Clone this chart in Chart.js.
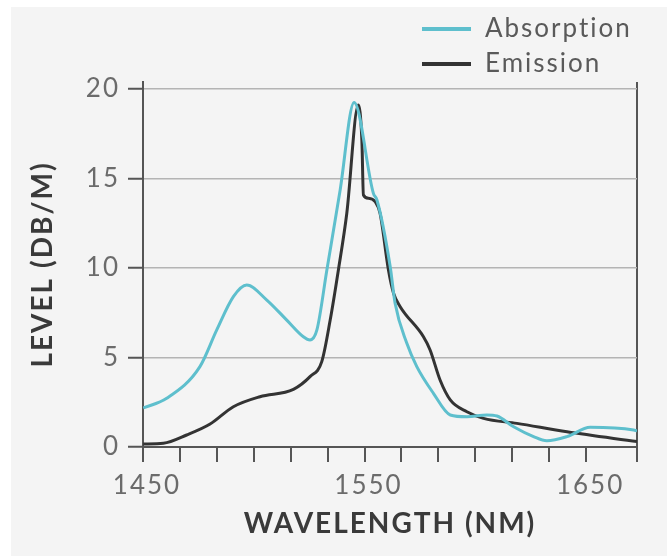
<!DOCTYPE html>
<html><head><meta charset="utf-8">
<script src="https://cdn.jsdelivr.net/npm/chart.js@4/dist/chart.umd.min.js"></script>
<style>html,body{margin:0;padding:0;background:#fff;}#wrap{width:667px;height:556px;position:relative}</style>
</head><body><div id="wrap"><canvas id="c" width="667" height="556"></canvas></div>
<script>
const seriesNames = ['Absorption', 'Emission'];
const seriesColors = ['#5ebfcd', '#333333'];
const absorptionNm = [1450.1,1460.7,1475.7,1483.3,1490.8,1496.8,1505.9,1514.9,1522.4,1525.4,1528.5,1533.0,1539.0,1545.3,1554.0,1555.6,1561.6,1563.8,1569.1,1573.6,1581.1,1588.7,1596.2,1605.2,1609.8,1617.3,1626.3,1632.3,1641.4,1651.9,1671.5,1673.0];
const absorptionLevel = [2.18,2.72,4.49,6.54,8.40,9.05,8.21,7.09,6.16,5.98,6.54,9.89,14.36,19.25,14.17,13.8,10.07,8.03,5.79,4.49,3.0,1.79,1.69,1.79,1.73,1.13,0.58,0.35,0.58,1.1,0.95,0.9];
const emissionNm = [1450.1,1459.2,1469.7,1480.3,1490.8,1502.8,1517.9,1525.4,1530.7,1534.5,1538.2,1542.0,1547.2,1548.8,1549.5,1551.8,1554.8,1557.0,1560.8,1563.1,1566.1,1576.6,1579.6,1584.1,1588.7,1596.2,1603.7,1618.8,1641.4,1673.0];
const emissionLevel = [0.17,0.21,0.67,1.28,2.25,2.81,3.22,3.93,4.77,7.09,9.89,13.06,19.1,17.15,14.08,13.9,13.7,13.06,9.89,8.59,7.84,6.16,5.42,3.74,2.63,1.97,1.6,1.32,0.85,0.3];
const xTickLabels = [1450, 1550, 1650];
const yTickValues = [0, 5, 10, 15, 20];
const xMin = 1450, xMax = 1673, yMin = 0, yMax = 20.39;

const toPoints = (xs, ys) => xs.map((x, i) => ({x: x, y: ys[i]}));

const spacingPlugin = {
  id: 'spacing',
  beforeInit(chart) { chart.ctx.letterSpacing = '2px'; },
  beforeUpdate(chart) { chart.ctx.letterSpacing = '2px'; },
  beforeLayout(chart) { chart.ctx.letterSpacing = '2px'; },
  beforeDraw(chart) { chart.ctx.letterSpacing = '2px'; }
};

const bgPlugin = {
  id: 'bg',
  beforeDraw(chart) {
    const ctx = chart.ctx;
    ctx.save();
    ctx.fillStyle = '#ffffff';
    ctx.fillRect(0, 0, chart.width, chart.height);
    ctx.fillStyle = '#f4f4f4';
    ctx.fillRect(11, 7, chart.width - 11, chart.height - 7);
    ctx.restore();
  }
};

const legendPlugin = {
  id: 'customLegend',
  afterDraw(chart) {
    const ctx = chart.ctx;
    ctx.save();
    ctx.font = '26px Lato';
    ctx.letterSpacing = '2px';
    ctx.textBaseline = 'middle';
    chart.data.datasets.forEach((ds, i) => {
      const y = 29 + i * 35;
      ctx.strokeStyle = ds.borderColor;
      ctx.lineWidth = 4;
      ctx.beginPath();
      ctx.moveTo(422, y);
      ctx.lineTo(471, y);
      ctx.stroke();
      ctx.fillStyle = '#5a5a5a';
      ctx.fillText(ds.label, 485, y);
    });
    ctx.restore();
  }
};

new Chart(document.getElementById('c'), {
  type: 'line',
  data: {
    datasets: [
      {label: seriesNames[0], data: toPoints(absorptionNm, absorptionLevel), borderColor: seriesColors[0], borderWidth: 3, pointRadius: 0, fill: false, cubicInterpolationMode: 'monotone'},
      {label: seriesNames[1], data: toPoints(emissionNm, emissionLevel), borderColor: seriesColors[1], borderWidth: 3, pointRadius: 0, fill: false, cubicInterpolationMode: 'monotone'}
    ]
  },
  options: {
    responsive: false,
    animation: false,
    layout: {padding: {top: 82, left: 0, right: 30, bottom: 0}},
    plugins: {legend: {display: false}, tooltip: {enabled: false}},
    scales: {
      x: {
        type: 'linear', min: xMin, max: xMax,
        afterBuildTicks: s => {
          const t = [];
          for (let k = 0; k <= 12; k++) t.push({value: xMin + k * 100 / 6});
          t.push({value: xMax});
          s.ticks = t;
        },
        ticks: {
          autoSkip: false, maxRotation: 0, minRotation: 0, padding: 8, labelOffset: 4,
          color: '#6b6b6b', font: {family: 'Lato', size: 26},
          callback: v => { const l = xTickLabels.find(l => Math.abs(l - v) < 0.01); return l === undefined ? '' : String(l); }
        },
        grid: {
          color: c => (c.tick && c.tick.value === xMax) ? '#555555' : 'rgba(0,0,0,0)',
          lineWidth: 2, tickColor: '#555555', tickLength: 15, tickWidth: 2
        },
        border: {color: '#555555', width: 2},
        title: {display: true, text: 'WAVELENGTH (NM)', color: '#3a3a3a', font: {family: 'Lato', size: 28, weight: 'bold'}, padding: {top: 0, bottom: 15}},
        afterFit: s => { s.height = 109; }
      },
      y: {
        min: yMin, max: yMax,
        afterBuildTicks: s => { s.ticks = yTickValues.map(v => ({value: v})); },
        ticks: {padding: 8, color: '#6b6b6b', font: {family: 'Lato', size: 26}},
        grid: {color: '#b4b4b4', lineWidth: 1.5, tickColor: '#555555', tickLength: 15, tickWidth: 2},
        border: {color: '#555555', width: 2},
        title: {display: true, text: 'LEVEL (DB/M)', color: '#3a3a3a', font: {family: 'Lato', size: 28, weight: 'bold'}, padding: {top: 26, bottom: 0}},
        afterFit: s => { s.width = 143; }
      }
    }
  },
  plugins: [spacingPlugin, bgPlugin, legendPlugin]
});
</script>
</body></html>
